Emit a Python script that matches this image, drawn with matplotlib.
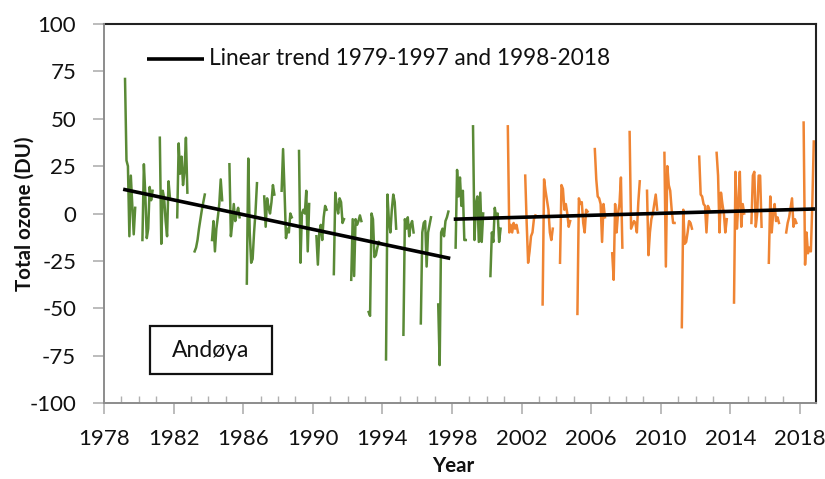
import numpy as np
import matplotlib
matplotlib.use("Agg")
import matplotlib.pyplot as plt
from matplotlib.patches import Rectangle
from matplotlib.ticker import MultipleLocator

# ---------------- data (monthly anomalies, Mar..Oct each year) ----------------
months = [3, 4, 5, 6, 7, 8, 9, 10]

green_years = list(range(1979, 2001))
green_values = [
    [71, 28, 25, -12, 20, 5, -11, 3],       # 1979
    [-14, 26, 10, -13, -8, 14, 7, 12],      # 1980
    [40, -16, 12, 8, -4, -12, 17, 8],       # 1981
    [-2, 37, 21, 30, 15, 22, 40, 11],       # 1982
    [-20, -18, -14, -8, -3, 2, 6, 10],      # 1983
    [-14, -4, -20, -8, -2, 5, 18, 7],       # 1984
    [26, -12, -5, 5, -4, 0, 3, -2],         # 1985
    [-37, 29, -10, -26, -24, -10, 1, 16],   # 1986
    [9, -7, 8, 3, 0, 6, 15, 10],            # 1987
    [12, 34, 12, -13, -8, -10, 0, -2],      # 1988
    [33, -26, 0, 2, 0, 12, -20, 5],         # 1989
    [-12, -27, -10, -6, -14, -2, 4, 2],     # 1990
    [-32, 11, 4, 0, 8, 6, -5, -3],          # 1991
    [-35, -3, -33, -3, -6, -4, -1, -4],     # 1992
    [-52, -54, 0, -3, -23, -22, -18, -15],  # 1993
    [-77, 10, -4, -10, 2, 10, 6, -8],       # 1994
    [-64, -3, -8, -2, -12, -6, -4, -10],    # 1995
    [-58, -10, -5, -4, -28, -10, -6, -2],   # 1996
    [-48, -80, -10, -8, -12, -4, -2, 1],    # 1997
    [-18, 23, 9, 19, 4, 12, -14, -14],      # 1998
    [46, -14, 5, 9, -15, 11, -15, 0],       # 1999
    [-33, -10, -15, 3, -2, 0, -15, -8],     # 2000
]

orange_years = list(range(2001, 2019))
orange_values = [
    [46, -10, -6, -10, -5, -8, -6, -10],    # 2001
    [20, -5, -26, -20, -12, -10, -3, -1],   # 2002
    [-48, 18, 12, 7, 2, -10, -14, -8],      # 2003
    [-26, 15, 13, 2, 5, 0, -7, -4],         # 2004
    [-53, 8, 5, 6, -5, -10, 2, 1],          # 2005
    [34, 18, 9, 8, 5, -15, 5, -2],          # 2006
    [-21, -35, 5, -10, 0, 5, 19, -18],      # 2007
    [43, -8, -6, -4, -5, -10, 6, 17],       # 2008
    [12, -22, -10, -3, 0, 5, 10, 2],        # 2009
    [32, -28, 25, 15, 12, 2, -5, -5],       # 2010
    [-60, 2, -16, -15, -10, -4, -5, -8],    # 2011
    [30, 10, 9, 5, 4, -10, 4, 2],           # 2012
    [32, 20, -10, 11, 5, 0, -10, -3],       # 2013
    [-47, 22, -8, 5, 22, -7, 5, 0],         # 2014
    [-5, 20, 22, -7, 0, 20, 20, -7],        # 2015
    [-26, 9, -10, 0, 5, -4, -2, -5],        # 2016
    [-10, -5, -2, 3, 8, -7, -3, -5],        # 2017
    [48, -27, -10, -21, -18, -20, 5, 38],   # 2018
]

trend1_years = [1979.1, 1997.9]
trend1_values = [12.8, -23.7]
trend2_years = [1998.1, 2018.92]
trend2_values = [-3.0, 2.4]

x_ticks = list(range(1978, 2019, 4))
y_ticks = [-100, -75, -50, -25, 0, 25, 50, 75, 100]

legend_label = "Linear trend 1979-1997 and 1998-2018"
station_label = "Andøya"


def build_series(years, values):
    xs, ys = [], []
    for yr, row in zip(years, values):
        for m, v in zip(months, row):
            xs.append(yr + (m - 0.5) / 12.0)
            ys.append(v)
        xs.append(np.nan)
        ys.append(np.nan)
    return np.array(xs), np.array(ys)


FONT = "Lato"
plt.rcParams["font.family"] = [FONT, "DejaVu Sans"]
plt.rcParams["axes.unicode_minus"] = False

fig = plt.figure(figsize=(8.25, 4.79), dpi=100)
ax = fig.add_axes([104 / 825, 1 - 403 / 479, 712 / 825, 379 / 479])

gx, gy = build_series(green_years, green_values)
ox, oy = build_series(orange_years, orange_values)
ax.plot(gx, gy, color="#5a8a36", lw=1.8, solid_joinstyle="round")
ax.plot(ox, oy, color="#ef8433", lw=1.8, solid_joinstyle="round")

ax.plot(trend1_years, trend1_values, color="black", lw=2.6, solid_capstyle="butt")
ax.plot(trend2_years, trend2_values, color="black", lw=2.6, solid_capstyle="butt")

ax.set_xlim(1978, 2018.92)
ax.set_ylim(-100, 100)
ax.set_xticks(x_ticks)
ax.set_yticks(y_ticks)
ax.xaxis.set_minor_locator(MultipleLocator(1))

gray = "#8c8c8c"
for s in ["left", "bottom"]:
    ax.spines[s].set_color(gray)
    ax.spines[s].set_linewidth(1.4)
    ax.spines[s].set_zorder(5)
for s in ["top", "right"]:
    ax.spines[s].set_color("#222222")
    ax.spines[s].set_linewidth(1.5)

ax.tick_params(axis="x", which="major", direction="out", length=8, width=1.2,
               color="#b0b0b0", labelsize=16, pad=11, labelcolor="#111111")
ax.tick_params(axis="x", which="minor", direction="in", length=5, width=1.0,
               color="#b0b0b0")
ax.tick_params(axis="y", which="major", direction="out", length=8, width=1.2,
               color="#b0b0b0", labelsize=16, pad=12, labelcolor="#111111")
ax.tick_params(top=False, right=False, which="both")

fig.text(25 / 825, 1 - 214 / 479, "Total ozone (DU)", rotation=90, ha="center",
         va="center", fontsize=14.8, fontweight="bold", color="#111111")
fig.text(453 / 825, 1 - 466 / 479, "Year", ha="center", va="center",
         fontsize=14.8, fontweight="bold", color="#111111")

# manual legend
ax.plot([0.0604, 0.1404], [0.9077, 0.9077], transform=ax.transAxes,
        color="black", lw=2.6, solid_capstyle="butt", clip_on=False)
ax.text(0.1475, 0.9077, legend_label, transform=ax.transAxes, ha="left",
        va="center", fontsize=16.3, color="#111111")

# station box
ax.add_patch(Rectangle((0.0646, 0.0765), 0.1713, 0.1266, transform=ax.transAxes,
                       facecolor="white", edgecolor="#111111", lw=1.6, zorder=6))
ax.text(0.0646 + 0.1713 / 2, 0.0765 + 0.1266 / 2, station_label,
        transform=ax.transAxes, ha="center", va="center", fontsize=16.5,
        color="#111111", zorder=7)

fig.savefig("out.png", dpi=100)
